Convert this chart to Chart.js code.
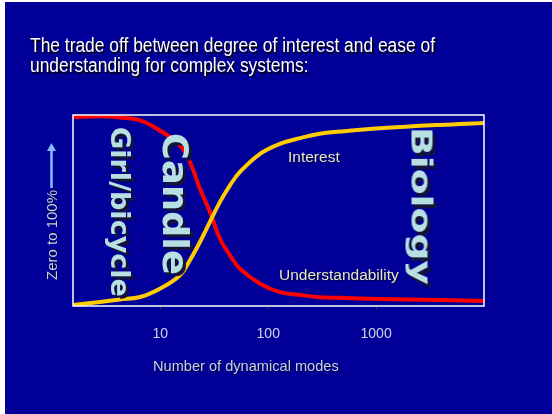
<!DOCTYPE html>
<html>
<head>
<meta charset="utf-8">
<script src="https://cdn.jsdelivr.net/npm/chart.js@4"></script>
<style>
  html, body { margin: 0; padding: 0; background: #fff; }
  #slide { position: absolute; left: 5px; top: 2px; width: 547px; height: 412px; background: #000099; }
  #wrap { position: absolute; left: 0; top: 0; width: 552px; height: 414px; }
  .txt { position: absolute; font-family: "Liberation Sans", Arial, sans-serif; white-space: nowrap; }
  #title { left: 30px; top: 36px; font-size: 20px; line-height: 19.5px; color: #fff;
           text-shadow: 1.5px 1.5px 0 #000; transform: scaleX(.87); transform-origin: left top; }
  .lab { font-size: 15.5px; line-height: 15px; color: #e6e6c8; text-shadow: 1px 1px 0 #000033; }
  .ax { font-size: 15px; line-height: 15px; color: #c4d0e6; text-shadow: 1px 1px 0 #000033; }
  .big { font-family: "DejaVu Sans", sans-serif; font-weight: bold; line-height: 1; color: #b8e0e2;
         text-shadow: 3px -3px 0 #14143a; }
</style>
</head>
<body>
<div id="slide"></div>
<div id="wrap"><canvas id="c"></canvas></div>
<div id="title" class="txt">The trade off between degree of interest and ease of<br>understanding for complex systems:</div>
<div class="txt lab" style="left:288px; top:149px;">Interest</div>
<div class="txt lab" style="left:279px; top:267px;">Understandability</div>
<div class="txt ax" style="left:153px; top:359px; font-size:14.6px;">Number of dynamical modes</div>
<div class="txt ax" style="left:51px; top:235px; transform: translate(-50%,-50%) rotate(-90deg);">Zero to 100%</div>
<div class="txt big" style="left:120px; top:212px; font-size:26px; transform: translate(-50%,-50%) rotate(90deg) scale(1.04,1);">Girl/bicycle</div>
<div class="txt big" style="left:174px; top:204px; font-size:35px; transform: translate(-50%,-50%) rotate(90deg) scale(1.05,1);">Candle</div>
<div class="txt big" style="left:421px; top:206px; font-size:29px; transform: translate(-50%,-50%) rotate(90deg) scale(1.3,1);">Biology</div>
<script>
const modes = [1.55, 2.75, 4.2, 6.5, 9.9, 15.2, 18.8, 23.3, 28.8, 35.7, 44.2, 54.7, 84, 128, 197, 300, 460, 1080, 3900, 10000];
const understandability = [98.9, 99.3, 98.7, 97.2, 91.9, 84.1, 75.4, 61.4, 49.2, 35.2, 26.5, 19.5, 11.7, 7.3, 5.8, 4.6, 4.3, 3.7, 3.1, 2.6];
const interest = [0.5, 2.1, 3.4, 4.7, 9.0, 16.1, 24.0, 33.5, 44.0, 54.5, 63.2, 70.2, 79.7, 84.9, 87.9, 90.2, 91.3, 93.0, 94.8, 95.8];
const xTicks = [10, 100, 1000];

const pts = arr => arr.map((v, i) => ({ x: modes[i], y: v }));

// white frame round the plot + the "zero to 100%" arrow
const decor = {
  id: 'decor',
  afterDatasetsDraw(chart) {
    const { ctx, chartArea: a } = chart;
    ctx.save();
    ctx.strokeStyle = '#ffffff';
    ctx.lineWidth = 1.5;
    ctx.strokeRect(a.left, a.top, a.right - a.left, a.bottom - a.top);
    ctx.strokeStyle = ctx.fillStyle = '#88bbff';
    ctx.lineWidth = 2.5;
    ctx.beginPath(); ctx.moveTo(51.5, 188); ctx.lineTo(51.5, 149); ctx.stroke();
    ctx.beginPath(); ctx.moveTo(51.5, 143); ctx.lineTo(47, 151); ctx.lineTo(56, 151); ctx.closePath(); ctx.fill();
    ctx.restore();
  }
};

new Chart(document.getElementById('c'), {
  type: 'line',
  data: {
    datasets: [
      { label: 'Interest', data: pts(interest), borderColor: '#ffcc00', borderWidth: 4 },
      { label: 'Understandability', data: pts(understandability), borderColor: '#ff0000', borderWidth: 4 }
    ]
  },
  options: {
    responsive: true,
    maintainAspectRatio: false,
    animation: false,
    layout: { padding: { left: 73, top: 115, right: 68, bottom: 0 } },
    elements: { point: { radius: 0 }, line: { tension: 0.4 } },
    plugins: { legend: { display: false }, tooltip: { enabled: false } },
    scales: {
      x: {
        type: 'logarithmic', min: 1.55, max: 10000,
        afterBuildTicks: s => { s.ticks = xTicks.map(v => ({ value: v })); },
        afterFit: s => { s.height = 108; },
        border: { display: false },
        grid: { drawOnChartArea: false, tickLength: 4, tickColor: '#222244' },
        ticks: {
          padding: 16, color: '#d0d6e6', maxRotation: 0,
          font: { family: 'Liberation Sans', size: 14 },
          callback: v => String(v)
        }
      },
      y: { min: 0, max: 100, display: false }
    }
  },
  plugins: [decor]
});
</script>
</body>
</html>
